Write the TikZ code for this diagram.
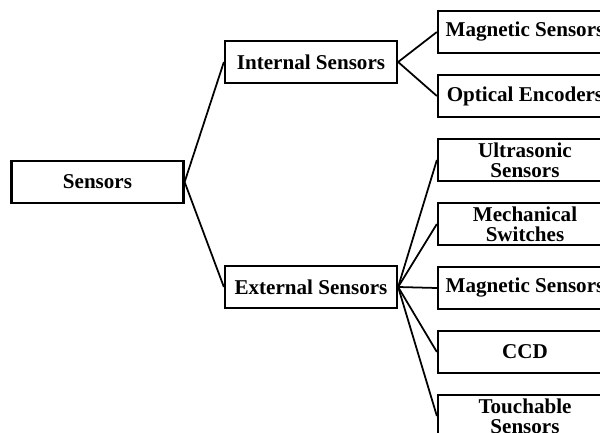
\documentclass[tikz,border=0pt]{standalone}
\usepackage{fontspec}
\setmainfont{Liberation Serif}
\usetikzlibrary{positioning}
\tikzset{
  sensorbox/.style={draw, line width=1.3pt, minimum width=3.44cm, minimum height=0.84cm,
    inner sep=0pt, align=center, font=\fontsize{12}{11.5}\selectfont\bfseries},
  leafbox/.style={sensorbox, minimum width=3.48cm},
  branch/.style={line width=1pt}
}

\begin{document}
\begin{tikzpicture}[x=0.02cm, y=-0.02cm]
  \fill[white] (0,0) rectangle (600,433);
  \useasboundingbox (0,0) rectangle (600,433);
  \clip (0,0) rectangle (600,433);
  % root and the two groups
  \node[sensorbox] (sensors) at (97.5,182) {Sensors};
  \node[sensorbox] (internal) at (311,62) {Internal Sensors};
  \node[sensorbox] (external) at (311,287) {External Sensors};
  % leaves
  \node[leafbox] (magnetic) at (525,32) {Magnetic Sensors};
  \node[leafbox] (optical) at (525,96) {Optical Encoders};
  \node[leafbox] (ultrasonic) at (525,160) {Ultrasonic\\Sensors};
  \node[leafbox] (mechanical) at (525,224) {Mechanical\\Switches};
  \node[leafbox] (magnetictwo) at (525,288) {Magnetic Sensors};
  \node[leafbox] (ccd) at (525,352) {CCD};
  \node[leafbox] (touchable) at (525,416) {Touchable\\Sensors};
  % branches
  \draw[branch] (sensors.east) -- (internal.west);
  \draw[branch] (sensors.east) -- (external.west);
  \draw[branch] (internal.east) -- (magnetic.west);
  \draw[branch] (internal.east) -- (optical.west);
  \draw[branch] (external.east) -- (ultrasonic.west);
  \draw[branch] (external.east) -- (mechanical.west);
  \draw[branch] (external.east) -- (magnetictwo.west);
  \draw[branch] (external.east) -- (ccd.west);
  \draw[branch] (external.east) -- (touchable.west);
\end{tikzpicture}
\end{document}
